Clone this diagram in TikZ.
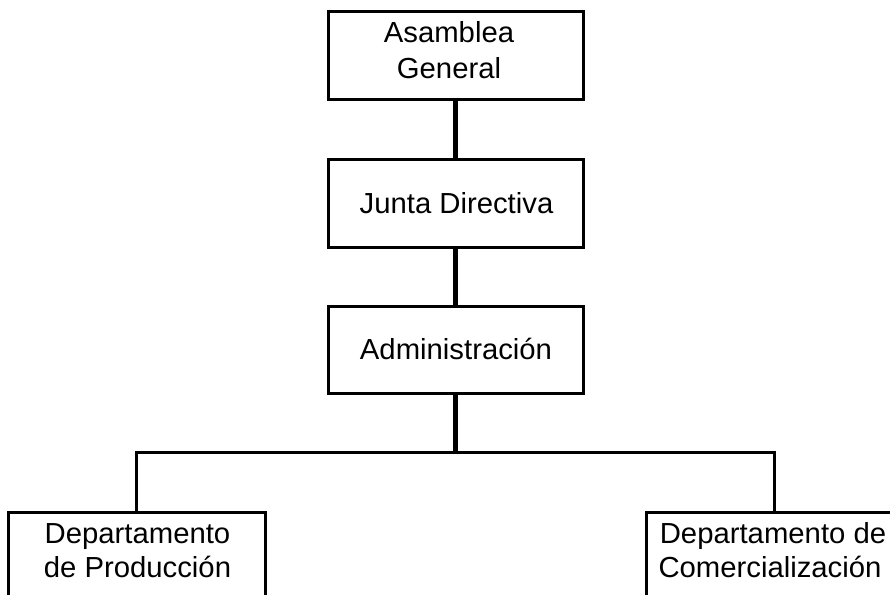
\documentclass[tikz,border=0pt]{standalone}
\usepackage{fontspec}
\setmainfont{Liberation Sans}[FakeStretch=1.01]
\begin{document}
\begin{tikzpicture}[x=1pt,y=-1pt,
  box/.style={draw=black,line width=3pt,minimum width=255pt,minimum height=87pt,inner sep=0pt},
  txt/.style={anchor=base,inner sep=0pt,font=\fontsize{29}{34}\selectfont},
  trunk/.style={line width=5pt},
  branch/.style={line width=3pt}]
\useasboundingbox (0,0) rectangle (890,594);
\clip (0,0) rectangle (890,594);
\fill[white] (0,0) rectangle (890,594);
% boxes
\node[box] (ag) at (455.5,55.5) {};
\node[box,minimum height=88pt] (jd) at (455.5,203) {};
\node[box] (ad) at (455.5,349.5) {};
\node[box,minimum width=257pt,minimum height=90pt] (dp) at (136.5,557) {};
\node[box,minimum width=256pt,minimum height=90pt] (dc) at (774,557) {};
% texts
\node[txt] (ag1) at (449,43) {Asamblea};
\node[txt] (ag2) at (449,78) {General};
\node[txt] (jd1) at (456.5,213) {Junta Directiva};
\node[txt] (ad1) at (456,359) {Administración};
\node[txt] (dp1) at (137.5,543) {Departamento};
\node[txt] (dp2) at (137.5,577) {de Producción};
\node[txt] (dc1) at (773,543) {Departamento de};
\node[txt] (dc2) at (770,577) {Comercialización};
% connectors
\coordinate (hub) at (455.5,452);
\draw[trunk] (ag.south) -- (jd.north);
\draw[trunk] (jd.south) -- (ad.north);
\draw[trunk] (ad.south) -- (hub);
\draw[branch] (dp.north) |- (hub) -| (dc.north);
\end{tikzpicture}
\end{document}
